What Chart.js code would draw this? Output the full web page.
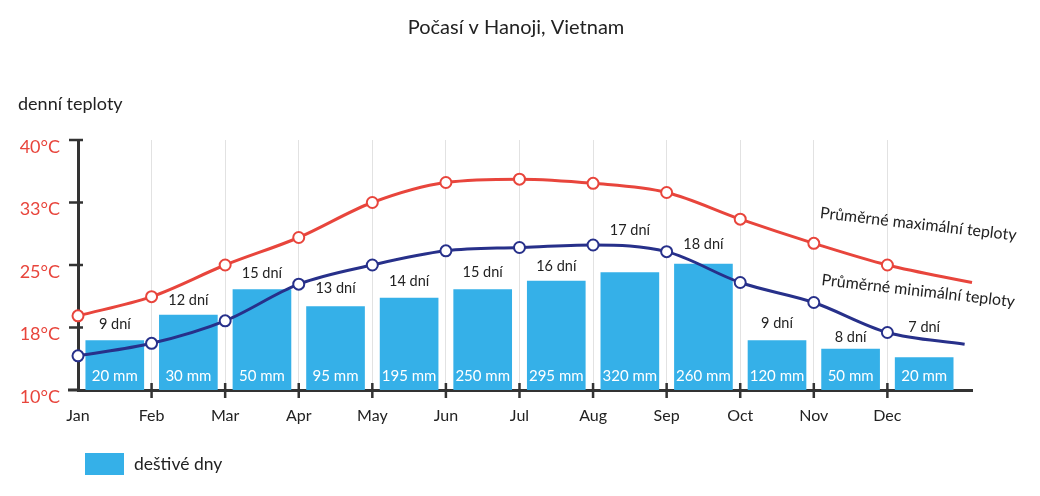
<!DOCTYPE html>
<html>
<head>
<meta charset="utf-8">
<title>Počasí v Hanoji, Vietnam</title>
<script src="https://cdn.jsdelivr.net/npm/chart.js@4.4.1/dist/chart.umd.min.js"></script>
<style>
  body { margin: 0; background: #fff; }
  canvas { display: block; }
</style>
</head>
<body>
<canvas id="myChart" width="1040" height="496"></canvas>
<script>
// data
const months = ['Jan', 'Feb', 'Mar', 'Apr', 'May', 'Jun', 'Jul', 'Aug', 'Sep', 'Oct', 'Nov', 'Dec'];
const maxTemp = [18.9, 21.2, 25.0, 28.3, 32.5, 34.9, 35.3, 34.8, 33.7, 30.5, 27.6, 25.0];
const minTemp = [14.1, 15.6, 18.3, 22.7, 25.0, 26.7, 27.1, 27.4, 26.6, 22.9, 20.5, 16.9];
const maxTail = { x: 12.15, y: 22.9 };   // where the curves run out on the right
const minTail = { x: 12.05, y: 15.5 };
const rainDays = [9, 12, 15, 13, 14, 15, 16, 17, 18, 9, 8, 7];
const rainMm = [20, 30, 50, 95, 195, 250, 295, 320, 260, 120, 50, 20];
const tempTicks = [10, 17.5, 25, 32.5, 40];

const FONT = 'Lato, "Open Sans", sans-serif';
const RED = '#e8453c';
const NAVY = '#27308a';
const BLUE = '#35b0e8';
const INK = '#222';

// how far above each bar its "dní" label sits
const dayLift = [16, 15, 16, 18, 17, 17, 15, 42, 20, 17, 12, 30];

function curve(vals, tail) {
    return vals.map((v, i) => ({ x: i, y: v })).concat([tail]);
}

const extras = {
    id: 'extras',
    afterDatasetsDraw(chart) {
        const c = chart.ctx;
        const meta = chart.getDatasetMeta(2);
        const bottom = chart.chartArea.bottom;
        c.save();
        c.textAlign = 'center';
        c.textBaseline = 'middle';
        meta.data.forEach((bar, i) => {
            c.fillStyle = INK;
            c.font = '14.5px ' + FONT;
            c.fillText(rainDays[i] + ' dní', bar.x, bar.y - dayLift[i]);
            c.fillStyle = '#ffffff';
            c.font = '15px ' + FONT;
            c.fillText(rainMm[i] + ' mm', bar.x, bottom - 14);
        });
        c.restore();
    },
    afterDraw(chart) {
        const c = chart.ctx;
        const x = chart.scales.x, y = chart.scales.y;
        const area = chart.chartArea;
        c.save();
        // tick marks crossing the axes
        c.strokeStyle = '#333';
        c.lineWidth = 2.5;
        c.beginPath();
        for (let i = 1; i < months.length; i++) {
            const px = x.getPixelForValue(i);
            c.moveTo(px, area.bottom - 7);
            c.lineTo(px, area.bottom + 8);
        }
        tempTicks.slice(1).forEach(v => {
            const py = y.getPixelForValue(v);
            c.moveTo(area.left - 9, py);
            c.lineTo(area.left + 5, py);
        });
        c.stroke();
        c.lineWidth = 3;
        c.beginPath();
        c.moveTo(area.left - 10, area.bottom);
        c.lineTo(area.left, area.bottom);
        c.stroke();

        // titles
        c.fillStyle = INK;
        c.textBaseline = 'middle';
        c.textAlign = 'center';
        c.font = '20px ' + FONT;
        c.fillText('Počasí v Hanoji, Vietnam', 516, 28);
        c.textAlign = 'left';
        c.font = '18px ' + FONT;
        c.fillText('denní teploty', 18, 104);

        // legend
        c.fillStyle = BLUE;
        c.fillRect(85, 453, 39, 22);
        c.fillStyle = INK;
        c.font = '17.5px ' + FONT;
        c.fillText('deštivé dny', 134, 464);

        // curve labels, slightly tilted
        c.font = '16px ' + FONT;
        c.textAlign = 'center';
        [['Průměrné maximální teploty', 29.9], ['Průměrné minimální teploty', 21.9]].forEach(([txt, t]) => {
            c.save();
            c.translate(x.getPixelForValue(11.42), y.getPixelForValue(t));
            c.rotate(6.5 * Math.PI / 180);
            c.fillText(txt, 0, 0);
            c.restore();
        });
        c.restore();
    }
};

const ctx = document.getElementById('myChart').getContext('2d');
const myChart = new Chart(ctx, {
    type: 'bar',
    data: {
        datasets: [{
            type: 'line',
            label: 'Průměrné maximální teploty',
            data: curve(maxTemp, maxTail),
            yAxisID: 'y',
            borderColor: RED,
            borderWidth: 3,
            cubicInterpolationMode: 'monotone',
            pointRadius: c => c.dataIndex < months.length ? 5.5 : 0,
            pointBackgroundColor: '#fff',
            pointBorderColor: RED,
            pointBorderWidth: 2,
            clip: false,
            order: 0
        }, {
            type: 'line',
            label: 'Průměrné minimální teploty',
            data: curve(minTemp, minTail),
            yAxisID: 'y',
            borderColor: NAVY,
            borderWidth: 3,
            cubicInterpolationMode: 'monotone',
            pointRadius: c => c.dataIndex < months.length ? 5.5 : 0,
            pointBackgroundColor: '#fff',
            pointBorderColor: NAVY,
            pointBorderWidth: 2,
            clip: false,
            order: 0
        }, {
            type: 'bar',
            label: 'deštivé dny',
            data: rainDays.map((d, i) => ({ x: i + 0.5, y: d })),
            yAxisID: 'y2',
            backgroundColor: BLUE,
            barThickness: 58,
            order: 1
        }]
    },
    options: {
        responsive: false,
        animation: false,
        layout: { padding: { left: 0, right: 68, top: 140, bottom: 56 } },
        plugins: { legend: { display: false }, tooltip: { enabled: false } },
        scales: {
            x: {
                type: 'linear',
                offset: false,
                min: 0,
                max: 12.15,
                afterBuildTicks: s => { s.ticks = months.map((m, i) => ({ value: i })); },
                afterFit: s => { s.height = 50; },
                ticks: {
                    callback: v => months[v] ?? '',
                    color: INK,
                    font: { family: FONT, size: 16 },
                    padding: 8,
                    autoSkip: false,
                    maxRotation: 0
                },
                grid: {
                    offset: false,
                    color: c => c.index === 0 ? 'rgba(0,0,0,0)' : '#e2e2e2',
                    lineWidth: 1,
                    tickLength: 8,
                    tickColor: 'rgba(0,0,0,0)'
                },
                border: { color: '#333', width: 3 }
            },
            y: {
                min: 10,
                max: 40,
                afterBuildTicks: s => { s.ticks = tempTicks.map(v => ({ value: v })); },
                afterFit: s => { s.width = 78; },
                ticks: {
                    callback: v => Math.round(v) + '°C',
                    color: RED,
                    font: { family: FONT, size: 18 },
                    padding: 8,
                    labelOffset: 7
                },
                grid: { drawOnChartArea: false, tickLength: 10, tickColor: 'rgba(0,0,0,0)' },
                border: { color: '#333', width: 3 }
            },
            y2: { display: false, min: 3.2, max: 32.6 }
        }
    },
    plugins: [extras]
});
</script>
</body>
</html>
